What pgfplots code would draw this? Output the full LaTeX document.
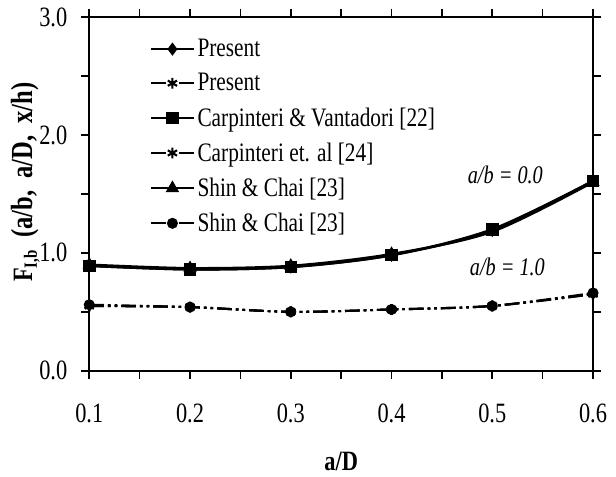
\documentclass[border=0pt]{standalone}
\usepackage{fontspec}
\setmainfont{Liberation Serif}[FakeStretch=0.8]
\usepackage{pgfplots}
\pgfplotsset{compat=1.18}

\begin{document}
\begin{tikzpicture}
\begin{axis}[
    scale only axis,
    width=378pt, height=265.5pt,
    xmin=0.1, xmax=0.6,
    ymin=0, ymax=3,
    xtick={0.1,0.2,0.3,0.4,0.5,0.6},
    minor xtick={0.15,0.25,0.35,0.45,0.55},
    ytick={0,1,2,3},
    minor ytick={0.5,1.5,2.5},
    xticklabel style={/pgf/number format/fixed, /pgf/number format/fixed zerofill, /pgf/number format/precision=1},
    yticklabel style={/pgf/number format/fixed, /pgf/number format/fixed zerofill, /pgf/number format/precision=1},
    /pgf/number format/assume math mode=true,
    tick align=outside,
    major tick length=6pt, minor tick length=6pt,
    every tick/.style={black, line width=1.2pt},
    axis line style={line width=1.4pt},
    ticklabel style={font=\fontsize{21}{22}\selectfont},
    xticklabel shift=15pt,
    yticklabel shift=7pt,
    xlabel={\textbf{a/D}},
    xlabel style={font=\fontsize{21}{22}\selectfont, at={(axis description cs:0.5,-0.255)}, anchor=center},
    ylabel={\textbf{{\fontsize{21}{22}\selectfont F}\textsubscript{\fontsize{14}{14}\selectfont I,b}}\hspace{9pt}\textbf{(a/b,\ \ a/D,\ \ x/h)}},
    ylabel style={font=\fontsize{23}{24}\selectfont, at={(axis description cs:-0.127,0.533)}, anchor=center},
    legend cell align=left,
    legend style={draw=none, fill=none, at={(axis description cs:0.12,0.945)}, anchor=north west,
        font=\fontsize{20}{22}\selectfont, row sep=7pt, inner sep=0pt,
        /tikz/every even column/.append style={column sep=2pt}},
    legend image code/.code={
        \draw[mark repeat=2, mark phase=2, #1] plot coordinates {(0cm,0cm) (0.56cm,0cm) (1.12cm,0cm)};
    },
    dlegend/.style={legend image post style={dash pattern=on 11pt off 10pt on 12pt}},
    abone/.style={black, line width=1.6pt, smooth,
        dash pattern=on 11pt off 3pt on 2pt off 3pt on 2pt off 3pt, mark options={solid}},
    clip=false,
]
% a/b = 0.0
\addplot[black, line width=1.8pt, smooth, mark=diamond*, mark size=3.5pt]
    coordinates {(0.1,0.89) (0.2,0.86) (0.3,0.88) (0.4,0.98) (0.5,1.19) (0.6,1.61)};
\addlegendentry{Present}
% a/b = 1.0
\addplot[abone, dlegend, mark=asterisk, mark size=4pt]
    coordinates {(0.1,0.55) (0.2,0.54) (0.3,0.50) (0.4,0.52) (0.5,0.55) (0.6,0.65)};
\addlegendentry{Present}
\addplot[black, line width=1.8pt, smooth, mark=square*, mark size=3.8pt]
    coordinates {(0.1,0.89) (0.2,0.86) (0.3,0.88) (0.4,0.98) (0.5,1.20) (0.6,1.61)};
\addlegendentry{Carpinteri \& Vantadori [22]}
\addplot[abone, dlegend, mark=asterisk, mark size=4pt]
    coordinates {(0.1,0.55) (0.2,0.54) (0.3,0.50) (0.4,0.52) (0.5,0.55) (0.6,0.65)};
\addlegendentry{Carpinteri et. al [24]}
\addplot[black, line width=1.8pt, smooth, mark=triangle*, mark size=4pt]
    coordinates {(0.1,0.90) (0.2,0.87) (0.3,0.89) (0.4,0.99) (0.5,1.18) (0.6,1.60)};
\addlegendentry{Shin \& Chai [23]}
\addplot[abone, dlegend, mark=*, mark size=3.3pt]
    coordinates {(0.1,0.56) (0.2,0.54) (0.3,0.50) (0.4,0.52) (0.5,0.55) (0.6,0.66)};
\addlegendentry{Shin \& Chai [23]}

\node[font=\fontsize{19}{20}\selectfont\itshape] at (axis cs:0.513,1.66) {a/b = 0.0};
\node[font=\fontsize{19}{20}\selectfont\itshape] at (axis cs:0.515,0.88) {a/b = 1.0};
\end{axis}
\pgfresetboundingbox
\path ([xshift=-67pt,yshift=-79.5pt]current axis.south west) rectangle ([xshift=17.25pt,yshift=12.75pt]current axis.north east);
\end{tikzpicture}
\end{document}
